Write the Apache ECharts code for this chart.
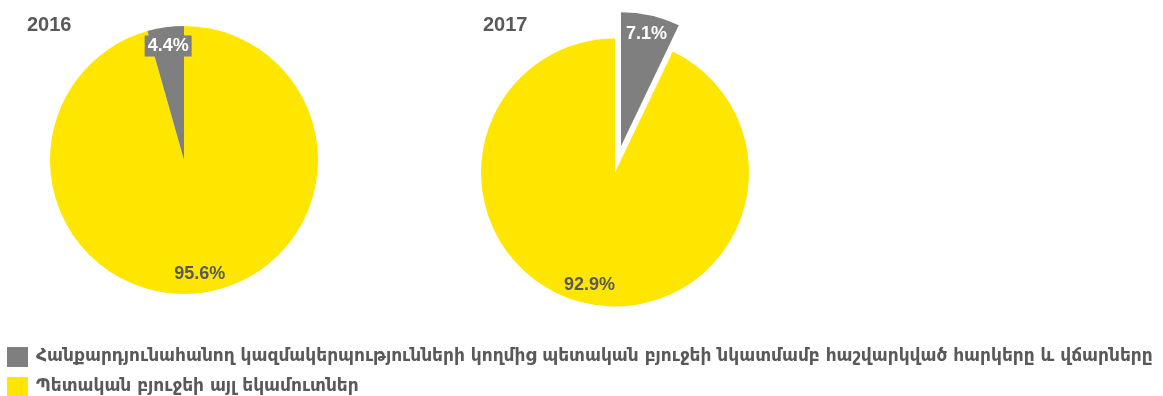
<!DOCTYPE html>
<html>
<head>
<meta charset="utf-8">
<script src="https://cdn.jsdelivr.net/npm/echarts@6/dist/echarts.min.js"></script>
<style>
  html, body { margin: 0; padding: 0; background: #ffffff; }
  #chart { width: 1163px; height: 396px; }
</style>
</head>
<body>
<div id="chart"></div>
<script>
// Share of state budget revenues paid by mining companies, by year
const years = ['2016', '2017'];
const categories = [
  'Հանքարդյունահանող կազմակերպությունների կողմից պետական բյուջեի նկատմամբ հաշվարկված հարկերը և վճարները',
  'Պետական բյուջեի այլ եկամուտներ'
];
const miningShare = [4.4, 7.1];   // %
const otherShare = [95.6, 92.9];  // %

const GRAY = '#7f7f7f';
const YELLOW = '#ffe600';
const TEXT = '#595959';
const FONT = '"Liberation Sans", Arial, sans-serif';

const R = 134;
const LABEL_R = 224; // label ring: inside labels sit at half this radius
const centers = [[184, 160], [615, 172.5]];

function slices(i, forLabels) {
  const mining = {
    name: categories[0],
    value: miningShare[i],
    itemStyle: { color: forLabels ? 'rgba(0,0,0,0)' : GRAY },
    label: {
      color: '#ffffff',
      backgroundColor: (forLabels && i === 0) ? GRAY : 'transparent',
      padding: [2, 3, 1, 3]
    }
  };
  const other = {
    name: categories[1],
    value: otherShare[i],
    itemStyle: { color: forLabels ? 'rgba(0,0,0,0)' : YELLOW },
    label: { color: TEXT }
  };
  if (i === 1) mining.selected = true;
  // 2016: mining slice ends at 12 o'clock; 2017: it starts there
  return i === 0 ? [other, mining] : [mining, other];
}

const series = [];
years.forEach((y, i) => {
  series.push({
    type: 'pie',
    name: y,
    center: centers[i],
    radius: [0, R],
    startAngle: 90,
    clockwise: true,
    selectedMode: 'single',
    selectedOffset: 27,
    label: { show: false },
    labelLine: { show: false },
    emphasis: { disabled: true },
    itemStyle: { borderWidth: 0 },
    data: slices(i, false)
  });
});
years.forEach((y, i) => {
  series.push({
    type: 'pie',
    name: y + ' labels',
    center: centers[i],
    radius: [0, LABEL_R],
    startAngle: 90,
    clockwise: true,
    silent: true,
    selectedMode: 'single',
    selectedOffset: 27,
    emphasis: { disabled: true },
    labelLine: { show: false },
    label: {
      show: true,
      position: 'inside',
      fontFamily: FONT,
      fontWeight: 'bold',
      fontSize: 18,
      formatter: p => p.value.toFixed(1) + '%'
    },
    data: slices(i, true)
  });
});

const chart = echarts.init(document.getElementById('chart'), null, { renderer: 'canvas' });
chart.setOption({
  animation: false,
  backgroundColor: '#ffffff',
  title: years.map((y, i) => ({
    text: y,
    left: i === 0 ? 27 : 483,
    top: 15,
    padding: 0,
    textStyle: { fontFamily: FONT, fontWeight: 'bold', fontSize: 20, color: TEXT }
  })),
  legend: {
    orient: 'vertical',
    left: 7,
    top: 347,
    height: 80,
    padding: 0,
    itemWidth: 21,
    itemHeight: 20,
    itemGap: 10,
    icon: 'rect',
    selectedMode: false,
    data: categories,
    textStyle: { fontFamily: '"DejaVu Sans", sans-serif', fontWeight: 'bold', fontSize: 17, color: TEXT, padding: [0, 0, 0, 3] }
  },
  series: series
});
</script>
</body>
</html>
